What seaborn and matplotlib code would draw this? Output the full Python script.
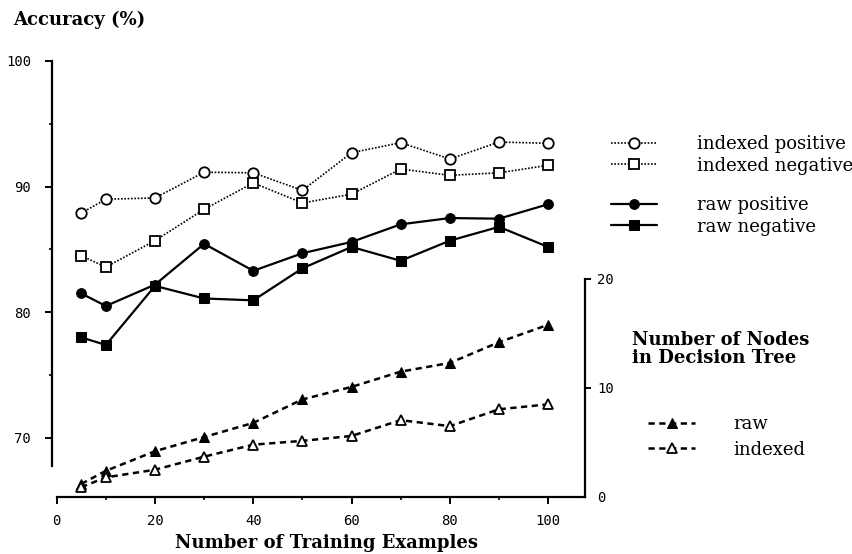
import matplotlib
matplotlib.use("Agg")
import matplotlib.pyplot as plt
import seaborn as sns
from matplotlib.ticker import MultipleLocator

# training set sizes
examples = [5, 10, 20, 30, 40, 50, 60, 70, 80, 90, 100]

# accuracy (%)
idx_pos = [87.9, 89.0, 89.1, 91.15, 91.1, 89.7, 92.7, 93.5, 92.2, 93.55, 93.45]
idx_neg = [84.5, 83.6, 85.7, 88.2, 90.3, 88.7, 89.4, 91.4, 90.9, 91.1, 91.7]
raw_pos = [81.5, 80.5, 82.2, 85.45, 83.3, 84.7, 85.6, 87.0, 87.5, 87.45, 88.6]
raw_neg = [78.0, 77.4, 82.1, 81.1, 80.95, 83.5, 85.2, 84.1, 85.7, 86.8, 85.2]

# number of nodes in the decision tree
nodes_raw = [1.2, 2.4, 4.2, 5.5, 6.8, 8.95, 10.1, 11.5, 12.3, 14.2, 15.8]
nodes_idx = [0.9, 1.8, 2.5, 3.7, 4.8, 5.15, 5.6, 7.05, 6.5, 8.05, 8.5]

acc_labels = ["indexed positive", "indexed negative", "raw positive", "raw negative"]
node_labels = ["raw", "indexed"]

sns.set_style("ticks")
plt.rcParams["font.family"] = ["DejaVu Serif"]
plt.rcParams.update({"text.color": "black", "axes.labelcolor": "black",
                     "xtick.color": "black", "ytick.color": "black"})

fig = plt.figure(figsize=(8.52, 5.54), dpi=100)
ax = fig.add_axes([0.0608, 0.1029, 0.6258, 0.787])
ax2 = ax.twinx()

dotted = (0, (1, 1))
dashed = (0, (2.5, 1.8))

common = dict(color="black", errorbar=None, legend=False)

sns.lineplot(x=examples, y=idx_pos, ax=ax, lw=1.2, ls=dotted, marker="o", ms=7.5,
             mfc="white", mec="black", mew=1.3, **common)
sns.lineplot(x=examples, y=idx_neg, ax=ax, lw=1.2, ls=dotted, marker="s", ms=6.5,
             mfc="white", mec="black", mew=1.3, **common)
sns.lineplot(x=examples, y=raw_pos, ax=ax, lw=1.6, ls="-", marker="o", ms=7,
             mfc="black", mec="black", **common)
sns.lineplot(x=examples, y=raw_neg, ax=ax, lw=1.6, ls="-", marker="s", ms=6.5,
             mfc="black", mec="black", **common)
acc_lines = list(ax.lines)

sns.lineplot(x=examples, y=nodes_raw, ax=ax2, lw=1.8, ls=dashed, marker="^", ms=7.5,
             mfc="black", mec="black", **common)
sns.lineplot(x=examples, y=nodes_idx, ax=ax2, lw=1.8, ls=dashed, marker="^", ms=7.5,
             mfc="white", mec="black", mew=1.3, **common)
node_lines = list(ax2.lines)

# axes ranges
ax.set_xlim(-1, 107.5)
ax.set_ylim(65.3, 100)
ax2.set_ylim(0, 40)

# spines
for s in ["top", "right"]:
    ax.spines[s].set_visible(False)
for s in ["top", "left", "bottom"]:
    ax2.spines[s].set_visible(False)
for a in (ax, ax2):
    for s in a.spines.values():
        s.set_linewidth(1.6)
        s.set_color("black")
ax.spines["left"].set_bounds(67.8, 100)
ax.spines["bottom"].set_bounds(0, 107.5)
ax2.spines["right"].set_bounds(0, 20)

# ticks
ax.set_xticks([0, 20, 40, 60, 80, 100])
ax.xaxis.set_minor_locator(MultipleLocator(10))
ax.set_yticks([70, 80, 90, 100])
ax.yaxis.set_minor_locator(MultipleLocator(5))
ax2.set_yticks([0, 10, 20])
ax2.yaxis.get_major_ticks()[0].tick2line.set_visible(False)

ax.tick_params(axis="x", which="major", length=5, width=1.4, pad=7, colors="black")
ax.tick_params(axis="x", which="minor", length=2.5, width=1.2)
ax.tick_params(axis="y", which="major", length=5, width=1.4, pad=10, colors="black")
ax.tick_params(axis="y", which="minor", length=2, width=1.2)
ax2.tick_params(axis="y", which="major", length=4, width=1.4, pad=5, colors="black")
for lab in ax.get_xticklabels() + ax.get_yticklabels() + ax2.get_yticklabels():
    lab.set_fontfamily("DejaVu Sans Mono")
    lab.set_fontsize(10)

# labels
ax.set_xlabel("Number of Training Examples", fontsize=13, fontweight="bold")
ax.xaxis.set_label_coords(0.515, -0.1055)
ax.xaxis.label.set_va("center")
fig.text(0.0149, 0.9639, "Accuracy (%)", fontsize=13, fontweight="bold",
         ha="left", va="center")
fig.text(0.7418, 0.3709, "Number of Nodes\nin Decision Tree", fontsize=13,
         fontweight="bold", ha="left", va="center", linespacing=1.0)

# legends
leg_kw = dict(loc="center left", frameon=False, fontsize=13, borderpad=0,
              borderaxespad=0, handlelength=2.55, handletextpad=2.2,
              labelspacing=0.2, labelcolor="black")
fig.legend(handles=acc_lines[:2], labels=acc_labels[:2],
           bbox_to_anchor=(0.7171, 0.7202), **leg_kw)
fig.legend(handles=acc_lines[2:], labels=acc_labels[2:],
           bbox_to_anchor=(0.7171, 0.6101), **leg_kw)
leg_kw.update(labelspacing=0.42, handlelength=2.6, handletextpad=2.15)
fig.legend(handles=node_lines, labels=node_labels,
           bbox_to_anchor=(0.7606, 0.2112), **leg_kw)

fig.savefig("out.png", dpi=100, facecolor="white")
